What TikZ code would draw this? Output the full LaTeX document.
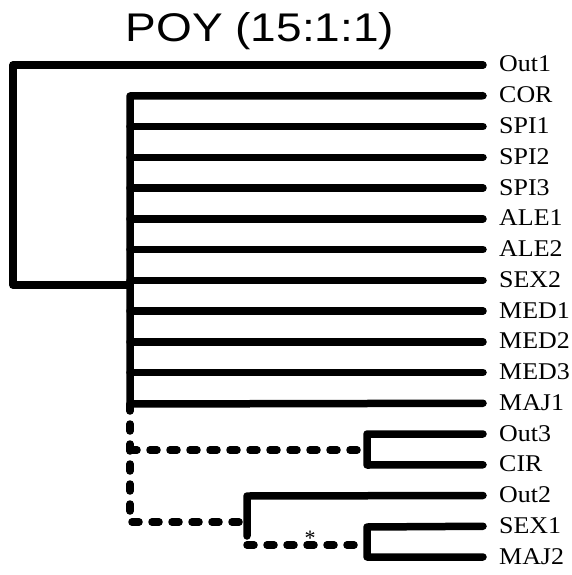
\documentclass[tikz,border=0pt]{standalone}
\usepackage{fontspec}
\setmainfont{Liberation Serif}
\newfontfamily\titlefont{Liberation Sans}
\begin{document}
\begin{tikzpicture}[x=1pt,y=-1pt,
  branch/.style={line width=7.5pt,line cap=round,line join=round},
  dbranch/.style={branch,dash pattern=on 7pt off 13pt},
  tiplabel/.style={anchor=base west,inner sep=0pt,xscale=1.08,transform shape,font=\fontsize{24}{24}\selectfont},
  titletext/.style={inner sep=0pt,xscale=1.15,transform shape,font=\titlefont\fontsize{40}{40}\selectfont}]
\useasboundingbox (0,0) rectangle (571,575);
\node[titletext,anchor=base] (title) at (260,42) {POY (15:1:1)};
% tips
\foreach \n [count=\i from 0] in {Out1,COR,SPI1,SPI2,SPI3,ALE1,ALE2,SEX2,MED1,MED2,MED3,MAJ1,Out3,CIR,Out2,SEX1,MAJ2}{
  \coordinate (t\n) at (483,{65+30.75*\i});
  \node[tiplabel] (\n) at (499,{72+30.75*\i}) {\n};
}
% internal nodes
\coordinate (root) at (13,285);
\coordinate (rootT) at (13,65);
\coordinate (polyJ) at (130,285);
\coordinate (polyT) at (130,96);
\coordinate (polyB) at (130,404);
\coordinate (dashB) at (130,522);
\coordinate (cA) at (130,450);
\coordinate (nA) at (367,450);
\coordinate (nAT) at (367,434);
\coordinate (nAB) at (367,465);
\coordinate (nB) at (247,522);
\coordinate (nBT) at (247,496);
\coordinate (nBB) at (247,536);
\coordinate (nBD) at (247,545);
\coordinate (nC) at (367,545);
\coordinate (nCT) at (367,527);
\coordinate (nCB) at (367,557);
% root
\draw[branch] (tOut1) -- (rootT) -- (root) -- (polyJ);
% polytomy
\draw[branch] (tCOR) -- (polyT) -- (polyB) -- (tMAJ1);
\foreach \n in {SPI1,SPI2,SPI3,ALE1,ALE2,SEX2,MED1,MED2,MED3}{
  \draw[branch] (polyT |- t\n) -- (t\n);
}
% dashed
\draw[dbranch] (polyB) -- (dashB) -- (nB);
\draw[dbranch] (cA) -- (nA);
\draw[dbranch] (nBD) -- (nC);
% clades
\draw[branch] (tOut3) -- (nAT) -- (nAB) -- (tCIR);
\draw[branch] (tOut2) -- (nBT) -- (nBB);
\draw[branch] (tSEX1) -- (nCT) -- (nCB) -- (tMAJ2);
\node[font=\fontsize{22}{22}\selectfont,inner sep=0pt] (star) at (310,538) {*};
\end{tikzpicture}
\end{document}
